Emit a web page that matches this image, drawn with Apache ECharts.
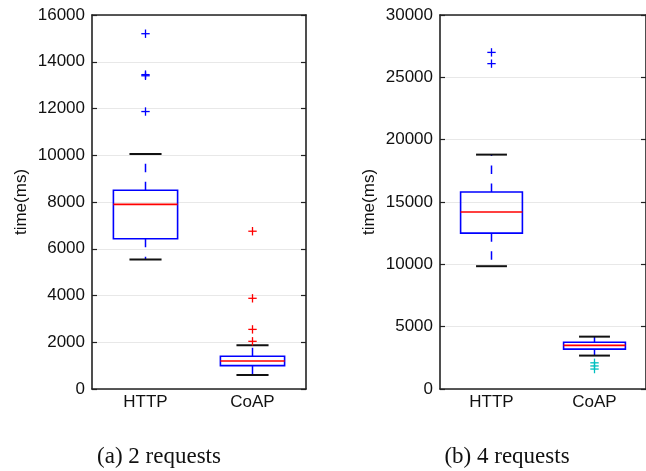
<!DOCTYPE html>
<html>
<head>
<meta charset="utf-8">
<script src="https://cdn.jsdelivr.net/npm/echarts@6/dist/echarts.min.js"></script>
<style>
html,body{margin:0;padding:0;background:#fff;}
#chart{width:646px;height:471px;}
</style>
</head>
<body>
<div id="chart"></div>
<script>
// ---- data ----
const categories = ['HTTP', 'CoAP'];
// [lowerWhisker, q1, median, q3, upperWhisker]
const req2Box = [
  [5540, 6430, 7900, 8500, 10050],
  [600, 1000, 1200, 1400, 1870]
];
// [categoryIndex, value]
const req2Outliers = [
  [0, 15200], [0, 13450], [0, 13400], [0, 11870],
  [1, 6750], [1, 3880], [1, 2550], [1, 2040]
];
const req4Box = [
  [9850, 12500, 14200, 15800, 18800],
  [2680, 3200, 3500, 3750, 4200]
];
const req4Outliers = [
  [0, 27000], [0, 26100],
  [1, 2100], [1, 1850], [1, 1600]
];
const yMax2 = 16000, yStep2 = 2000;
const yMax4 = 30000, yStep4 = 5000;
const captions = ['(a) 2 requests', '(b) 4 requests'];

// ---- styling ----
const SANS = '"Liberation Sans", Arial, Helvetica, sans-serif';
const SERIF = '"Liberation Serif", "Times New Roman", serif';
const FRAME = '#222';
const outlierColors = [['#0000ff', '#ff0000'], ['#0000ff', '#00bfbf']];

const chart = echarts.init(document.getElementById('chart'), null, {renderer: 'canvas'});

function boxRender(params, api) {
  const i = api.value(0);
  const cx = api.coord([i, 0])[0];
  const bw = api.size([1, 0])[0] * 0.6;
  const cw = bw / 2;
  const y = k => api.coord([i, api.value(k)])[1];
  const yLow = y(1), yQ1 = y(2), yMed = y(3), yQ3 = y(4), yHigh = y(5);
  const dash = {stroke: '#0000ff', lineWidth: 1.5, lineDash: [8.5, 9.5]};
  return {
    type: 'group',
    children: [
      {type: 'line', shape: {x1: cx, y1: yQ3, x2: cx, y2: yHigh}, style: dash},
      {type: 'line', shape: {x1: cx, y1: yQ1, x2: cx, y2: yLow}, style: dash},
      {type: 'line', shape: {x1: cx - cw / 2, y1: yHigh, x2: cx + cw / 2, y2: yHigh}, style: {stroke: '#111', lineWidth: 2}},
      {type: 'line', shape: {x1: cx - cw / 2, y1: yLow, x2: cx + cw / 2, y2: yLow}, style: {stroke: '#111', lineWidth: 2}},
      {type: 'rect', shape: {x: cx - bw / 2, y: yQ3, width: bw, height: yQ1 - yQ3}, style: {stroke: '#0000ff', fill: null, lineWidth: 1.6}},
      {type: 'line', shape: {x1: cx - bw / 2, y1: yMed, x2: cx + bw / 2, y2: yMed}, style: {stroke: '#ff0000', lineWidth: 1.6}}
    ]
  };
}

function outlierRender(panel) {
  return function (params, api) {
    const i = api.value(0);
    const p = api.coord([i, api.value(1)]);
    const c = outlierColors[panel][i];
    const r = 4.2;
    return {
      type: 'group',
      children: [
        {type: 'line', shape: {x1: p[0] - r, y1: p[1], x2: p[0] + r, y2: p[1]}, style: {stroke: c, lineWidth: 1.3}},
        {type: 'line', shape: {x1: p[0], y1: p[1] - r, x2: p[0], y2: p[1] + r}, style: {stroke: c, lineWidth: 1.3}}
      ]
    };
  };
}

function xAxes(g) {
  return [
    {gridIndex: g, type: 'category', data: categories, position: 'bottom',
     axisLine: {onZero: false, lineStyle: {color: FRAME, width: 1.6}},
     axisTick: {inside: true, alignWithLabel: true, length: 5, lineStyle: {color: FRAME, width: 1.2}},
     axisLabel: {color: '#111', fontSize: 17, fontFamily: SANS, margin: 5},
     splitLine: {show: false}},
    {gridIndex: g, type: 'category', data: categories, position: 'top',
     axisLine: {onZero: false, lineStyle: {color: FRAME, width: 1.6}},
     axisTick: {inside: true, alignWithLabel: true, length: 5, lineStyle: {color: FRAME, width: 1.2}},
     axisLabel: {show: false}, splitLine: {show: false}}
  ];
}
function yAxes(g, max, step) {
  return [
    {gridIndex: g, type: 'value', min: 0, max: max, interval: step, position: 'left',
     name: 'time(ms)', nameLocation: 'middle', nameGap: 62, nameRotate: 90,
     nameTextStyle: {color: '#111', fontSize: 17, fontFamily: SANS},
     axisLine: {show: true, onZero: false, lineStyle: {color: FRAME, width: 1.6}},
     axisTick: {show: true, inside: true, length: 5, lineStyle: {color: FRAME, width: 1.2}},
     axisLabel: {color: '#111', fontSize: 17, fontFamily: SANS, margin: 7, formatter: v => String(v)},
     splitLine: {show: true, lineStyle: {color: '#e8e8e8', width: 1.2}}},
    {gridIndex: g, type: 'value', min: 0, max: max, interval: step, position: 'right',
     axisLine: {show: true, onZero: false, lineStyle: {color: FRAME, width: 1.6}},
     axisTick: {show: true, inside: true, length: 5, lineStyle: {color: FRAME, width: 1.2}},
     axisLabel: {show: false}, splitLine: {show: false}}
  ];
}

const option = {
  animation: false,
  backgroundColor: '#fff',
  grid: [
    {left: 92, top: 15, width: 214, height: 374},
    {left: 440, top: 15, width: 214, height: 374}
  ],
  xAxis: [...xAxes(0), ...xAxes(1)],
  yAxis: [...yAxes(0, yMax2, yStep2), ...yAxes(1, yMax4, yStep4)],
  series: [
    {type: 'custom', xAxisIndex: 0, yAxisIndex: 0, renderItem: boxRender,
     data: req2Box.map((b, i) => [i, ...b]), encode: {x: 0, y: [1, 2, 3, 4, 5]}, z: 3},
    {type: 'custom', xAxisIndex: 0, yAxisIndex: 0, renderItem: outlierRender(0),
     data: req2Outliers, encode: {x: 0, y: 1}, z: 4},
    {type: 'custom', xAxisIndex: 2, yAxisIndex: 2, renderItem: boxRender,
     data: req4Box.map((b, i) => [i, ...b]), encode: {x: 0, y: [1, 2, 3, 4, 5]}, z: 3},
    {type: 'custom', xAxisIndex: 2, yAxisIndex: 2, renderItem: outlierRender(1),
     data: req4Outliers, encode: {x: 0, y: 1}, z: 4}
  ],
  graphic: [
    {type: 'text', x: 159, y: 457, style: {text: captions[0], font: '23px ' + SERIF, fill: '#111', align: 'center', verticalAlign: 'middle'}},
    {type: 'text', x: 507, y: 457, style: {text: captions[1], font: '23px ' + SERIF, fill: '#111', align: 'center', verticalAlign: 'middle'}}
  ]
};
chart.setOption(option);
</script>
</body>
</html>
